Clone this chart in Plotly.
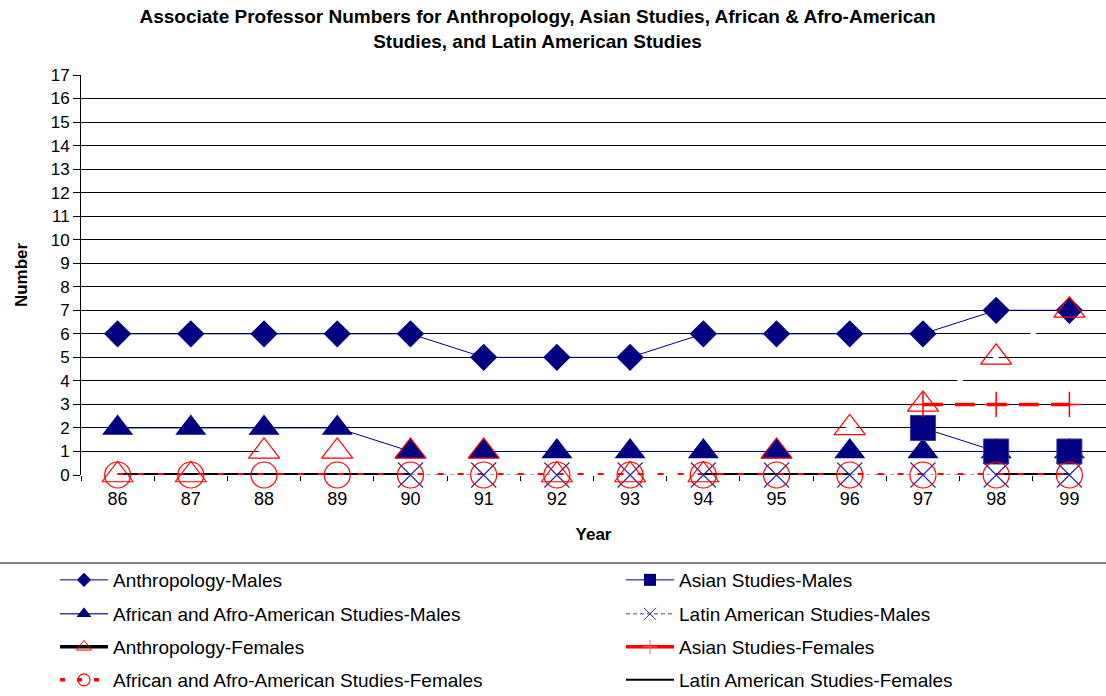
import plotly.graph_objects as go

years = ["86", "87", "88", "89", "90", "91", "92", "93", "94", "95", "96", "97", "98", "99"]

anthro_m = [6, 6, 6, 6, 6, 5, 5, 5, 6, 6, 6, 6, 7, 7]
asian_m = [None, None, None, None, None, None, None, None, None, None, None, 2, 1, 1]
african_m = [2, 2, 2, 2, 1, 1, 1, 1, 1, 1, 1, 1, 1, 1]
latin_m = [None, None, None, None, 0, 0, 0, 0, 0, 0, 0, 0, 0, 0]
anthro_f = [0, 0, 1, 1, 1, 1, 0, 0, 0, 1, 2, 3, 5, 7]
asian_f = [None, None, None, None, None, None, None, None, None, None, None, 3, 3, 3]
african_f = [0, 0, 0, 0, 0, 0, 0, 0, 0, 0, 0, 0, 0, 0]
latin_f = [0, 0, 0, 0, 0, None, None, None, 0, 0, 0, None, 0, 0]

names = [
    "Anthropology-Males", "Asian Studies-Males",
    "African and Afro-American Studies-Males", "Latin American Studies-Males",
    "Anthropology-Females", "Asian Studies-Females",
    "African and Afro-American Studies-Females", "Latin American Studies-Females",
]

NAVY = "#000080"
RED = "#FF0000"
XBLUE = "#2a2aa8"
FONT = "Liberation Sans, Arial, sans-serif"

W, H = 1106, 696
L, T, B = 81, 75, 221

series = [
    (names[0], anthro_m, dict(color=NAVY, width=1),
     dict(symbol="diamond", size=21, color=NAVY)),
    (names[2], african_m, dict(color=NAVY, width=1),
     dict(symbol="triangle-up", size=27, color=NAVY)),
    (names[1], asian_m, dict(color=NAVY, width=1),
     dict(symbol="square", size=25, color=NAVY, line=dict(color="#3a3aa0", width=1))),
    (names[3], latin_m, dict(color="#3333aa", width=1, dash="4px,4px"),
     dict(symbol="x-thin", size=25, color=XBLUE, line=dict(color=XBLUE, width=1.2))),
    # Anthropology-Females: its line is white in the plot area
    (names[4], anthro_f, dict(color="white", width=3),
     dict(symbol="triangle-up-open", size=27, color=RED, line=dict(color=RED, width=1.2))),
    (names[5], asian_f, dict(color=RED, width=3.5, dash="20px,12px"),
     dict(symbol="cross-thin", size=18, color=RED, line=dict(color=RED, width=1.5))),
    (names[7], latin_f, dict(color="black", width=4), None),
    (names[6], african_f, dict(color=RED, width=4, dash="6px,14px"),
     dict(symbol="circle-open", size=26, color=RED, line=dict(color=RED, width=1.2))),
]

fig = go.Figure()

# lines of all series first, then markers (as in the original chart)
for nm, ys, ln, mk in series:
    fig.add_trace(go.Scatter(x=years, y=ys, mode="lines", name=nm, line=ln,
                             showlegend=False, hoverinfo="skip"))
for nm, ys, ln, mk in series:
    if mk is not None:
        fig.add_trace(go.Scatter(x=years, y=ys, mode="markers", name=nm, marker=mk,
                                 cliponaxis=False, showlegend=False))

# ---- legend entries (legend keys only, no data) ----
legend_styles = [
    dict(line=dict(color=NAVY, width=1), marker=dict(symbol="diamond", size=11, color=NAVY)),
    dict(line=dict(color=NAVY, width=1), marker=dict(symbol="square", size=12, color=NAVY)),
    dict(line=dict(color="#4040a0", width=1.5), marker=dict(symbol="triangle-up", size=13, color=NAVY)),
    dict(line=dict(color="#4040b0", width=1, dash="4px,3px"),
         marker=dict(symbol="x-thin", size=12, color=XBLUE, line=dict(color=XBLUE, width=1))),
    dict(line=dict(color="black", width=3.5),
         marker=dict(symbol="triangle-up-open", size=13, color=RED, line=dict(color=RED, width=1))),
    dict(line=dict(color=RED, width=3.5),
         marker=dict(symbol="cross-thin", size=10, color=RED, line=dict(color="#ff6060", width=1))),
    dict(line=dict(color=RED, width=3.5, dash="5px,12px"),
         marker=dict(symbol="circle-open", size=12, color=RED, line=dict(color=RED, width=1.2))),
    dict(line=dict(color="black", width=2)),
]
keys = ["legend", "legend2", "legend3", "legend4", "legend5", "legend6", "legend7", "legend8"]
for i, (nm, st) in enumerate(zip(names, legend_styles)):
    fig.add_trace(go.Scatter(x=[None], y=[None], mode="lines+markers" if "marker" in st else "lines",
                             name=nm, legend=keys[i], showlegend=True, **st))

rows_py = [580, 614, 647, 680]
col_text_px = [113, 679]
legend_font = dict(family=FONT, size=19, color="black")
legend_layout = {}
for i, k in enumerate(keys):
    r, c = divmod(i, 2)
    legend_layout[k] = dict(
        x=(col_text_px[c] - 58) / W, y=1 - rows_py[r] / H,
        xref="container", yref="container",
        xanchor="left", yanchor="middle",
        bgcolor="rgba(0,0,0,0)", borderwidth=0,
        font=legend_font, itemwidth=48,
        orientation="h",
    )

fig.update_layout(
    width=W, height=H,
    margin=dict(l=L, r=0, t=T, b=B, pad=0, autoexpand=False),
    paper_bgcolor="white", plot_bgcolor="white",
    font=dict(family=FONT, color="black"),
    title=dict(
        text="Associate Professor Numbers for Anthropology, Asian Studies, African &amp; Afro-American<br>Studies, and Latin American Studies",
        x=(140 + 935) / 2 / W, xanchor="center",
        y=1 - 23 / H, yanchor="middle", xref="container", yref="container",
        font=dict(family=FONT, size=19, color="black", weight="bold"),
    ),
    xaxis=dict(
        type="category", range=[-0.5, len(years) - 0.5],
        tickson="boundaries", ticks="outside", ticklen=5, ticklabelstandoff=11,
        tickcolor="black", showline=False, showgrid=False, zeroline=False,
        tickfont=dict(family=FONT, size=18, color="black"),
        title=dict(text="Year", font=dict(family=FONT, size=17, color="black", weight="bold"),
                   standoff=20),
        automargin=False,
    ),
    yaxis=dict(
        range=[0, 17], dtick=1, tick0=0, ticks="outside", ticklen=7, tickcolor="black",
        showline=True, linecolor="black", linewidth=1,
        showgrid=True, gridcolor="black", gridwidth=1,
        zeroline=True, zerolinecolor="rgba(0,0,0,0)",
        tickfont=dict(family=FONT, size=17, color="black"),
        title=dict(text="Number", font=dict(family=FONT, size=17, color="black", weight="bold"),
                   standoff=18),
        automargin=False,
    ),
    shapes=[dict(type="line", xref="paper", yref="paper",
                 x0=-L / (W - L), x1=1, y0=(475 - 563) / 400, y1=(475 - 563) / 400,
                 line=dict(color="#808080", width=2))],
    **legend_layout,
)

fig.write_html("out.html", config={"displayModeBar": False},
               post_script="document.body.style.margin='0';")
